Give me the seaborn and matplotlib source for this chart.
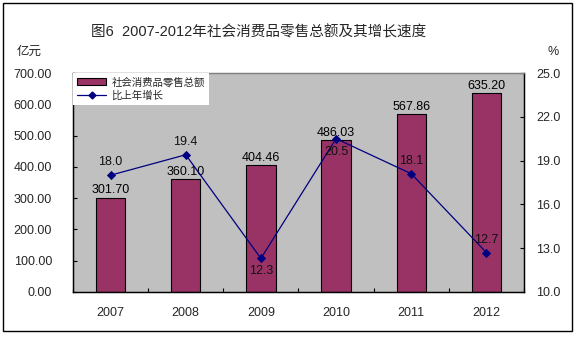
import matplotlib
matplotlib.use("Agg")
import matplotlib.pyplot as plt
import seaborn as sns
import pandas as pd
import numpy as np
from matplotlib.patches import Rectangle, Patch
from matplotlib.lines import Line2D
from matplotlib.ticker import FormatStrFormatter, MultipleLocator

years = ["2007", "2008", "2009", "2010", "2011", "2012"]
sales = [301.70, 360.10, 404.46, 486.03, 567.86, 635.20]
growth = [18.0, 19.4, 12.3, 20.5, 18.1, 12.7]
growth_label_below = [False, False, True, True, False, False]
right_ticks = [10.0, 13.0, 16.0, 19.0, 22.0, 25.0]

title = "图6  2007-2012年社会消费品零售总额及其增长速度"
bar_name = "社会消费品零售总额"
line_name = "比上年增长"
left_unit = "亿元"
right_unit = "%"

sns.set_theme(style="white")
plt.rcParams['font.family'] = ['Liberation Sans', 'Noto Sans CJK SC', 'DejaVu Sans']

df = pd.DataFrame({"year": years, "sales": sales, "growth": growth})

fig = plt.figure(figsize=(5.76, 3.37), dpi=100)
ax = fig.add_axes([73/576, 1-292/337, (524-73)/576, (292-73)/337])
ax.set_facecolor("#C0C0C0")

bar_color = "#993366"
line_color = "#000080"

sns.barplot(data=df, x="year", y="sales", ax=ax, color=bar_color,
            edgecolor="black", linewidth=0.8, width=0.39, saturation=1)
ax.bar_label(ax.containers[0], fmt="%.2f", padding=1, fontsize=9, color="black")

ax.set_ylim(0, 700)
ax.yaxis.set_major_locator(MultipleLocator(100))
ax.yaxis.set_major_formatter(FormatStrFormatter("%.2f"))
ax.set_xlim(-0.5, len(years) - 0.5)
ax.set_xlabel("")
ax.set_ylabel("")
ax.set_xticks(np.arange(len(years)))
ax.set_xticklabels(years)
ax.set_xticks(np.arange(len(years) + 1) - 0.5, minor=True)
ax.tick_params(axis="x", which="major", length=0, pad=11, labelsize=9)
ax.tick_params(axis="x", which="minor", direction="in", length=3, width=0.8,
               color="black", bottom=True)
ax.tick_params(axis="y", direction="in", length=3, width=0.8, color="black",
               left=True, pad=15, labelsize=9)

ax2 = ax.twinx()
sns.pointplot(data=df, x="year", y="growth", ax=ax2, color=line_color,
              markers="D", markersize=4, linewidth=0.9, linestyles="-")
ax2.set_ylim(right_ticks[0], right_ticks[-1])
ax2.set_yticks(right_ticks)
ax2.yaxis.set_major_formatter(FormatStrFormatter("%.1f"))
ax2.set_ylabel("")
ax2.set_xlabel("")
ax2.set_xlim(-0.5, len(years) - 0.5)
ax2.tick_params(axis="y", direction="in", length=3, width=0.8, color="black",
                right=True, pad=9, labelsize=9)

for i, (v, below) in enumerate(zip(growth, growth_label_below)):
    ax2.annotate(f"{v:.1f}", xy=(i, v), xytext=(0, -5 if below else 5),
                 textcoords="offset points", ha="center",
                 va="top" if below else "bottom", fontsize=9, color="#111111")

for a in (ax, ax2):
    for s in ("left", "bottom", "right"):
        a.spines[s].set_color("black")
        a.spines[s].set_linewidth(0.9)
    a.spines["top"].set_color("#808080")
    a.spines["top"].set_linewidth(0.9)
    a.grid(False)

handles = [Patch(facecolor=bar_color, edgecolor="black", linewidth=0.8),
           Line2D([0], [0], color=line_color, marker="D", markersize=3.5, linewidth=0.9)]
leg = ax2.legend(handles, [bar_name, line_name], loc="upper left",
                 bbox_to_anchor=(0, 1), borderaxespad=0, frameon=True,
                 fancybox=False, fontsize=7.5, handlelength=2.8, handleheight=0.7,
                 handletextpad=0.5, labelspacing=0.3, borderpad=0.4)
leg.get_frame().set_facecolor("white")
leg.get_frame().set_edgecolor("none")
leg.get_frame().set_alpha(1)

fig.text(259/576, 1-32/337, title, ha="center", va="center", fontsize=10.5,
         family=['Liberation Sans', 'Noto Sans CJK SC'])
fig.text(17/576, 1-52/337, left_unit, ha="left", va="center", fontsize=9)
fig.text(553/576, 1-52/337, right_unit, ha="center", va="center", fontsize=9)

fig.patches.append(Rectangle((3/576, 1-331/337), 569/576, 328/337,
                             transform=fig.transFigure, fill=False,
                             edgecolor="black", linewidth=1.0))

fig.savefig("out.png", dpi=100, facecolor="white")
